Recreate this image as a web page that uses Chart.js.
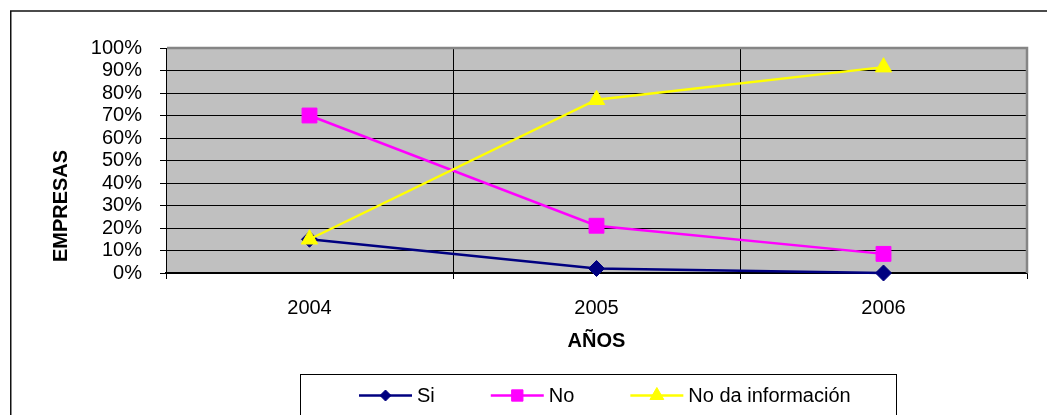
<!DOCTYPE html>
<html>
<head>
<meta charset="utf-8">
<script src="https://cdn.jsdelivr.net/npm/chart.js@4.4.1/dist/chart.umd.min.js"></script>
<style>
  html, body { margin: 0; padding: 0; background: #ffffff; }
  #wrap { width: 1047px; height: 415px; position: relative; overflow: hidden; }
  canvas { display: block; }
</style>
</head>
<body>
<div id="wrap"><canvas id="c" width="1047" height="415"></canvas></div>
<script>
// ---- data ----
const categories = ['2004', '2005', '2006'];
const seriesNames = ['Si', 'No', 'No da información'];
const seriesSi = [15, 2, 0];
const seriesNo = [70, 21, 8.5];
const seriesNoDa = [15, 77, 91.5];
const yTickLabels = ['0%', '10%', '20%', '30%', '40%', '50%', '60%', '70%', '80%', '90%', '100%'];
const xTitle = 'AÑOS';
const yTitle = 'EMPRESAS';

const FONT = '"Liberation Sans", Arial, Helvetica, sans-serif';
const legendRadius = [5.5, 8, 8];

const plotBackground = {
  id: 'plotBackground',
  beforeDraw(chart) {
    const { ctx, chartArea: a } = chart;
    ctx.save();
    ctx.fillStyle = '#ffffff';
    ctx.fillRect(0, 0, chart.width, chart.height);
    ctx.fillStyle = '#C0C0C0';
    ctx.fillRect(a.left, a.top, a.right - a.left, a.bottom - a.top);
    ctx.restore();
  }
};

const plotBorder = {
  id: 'plotBorder',
  beforeDatasetsDraw(chart) {
    const { ctx, chartArea: a } = chart;
    ctx.save();
    ctx.strokeStyle = '#858585';
    ctx.lineWidth = 2.5;
    ctx.beginPath();
    ctx.moveTo(a.left + 1, a.top);
    ctx.lineTo(a.right, a.top);
    ctx.lineTo(a.right, a.bottom);
    ctx.stroke();
    ctx.restore();
  }
};

const extras = {
  id: 'extras',
  afterDraw(chart) {
    const { ctx } = chart;
    ctx.save();
    // outer frame (left & top)
    ctx.strokeStyle = '#111';
    ctx.lineWidth = 1.5;
    ctx.beginPath();
    ctx.moveTo(10.75, chart.height);
    ctx.lineTo(10.75, 11);
    ctx.lineTo(chart.width, 11);
    ctx.stroke();

    // y axis title
    ctx.save();
    ctx.translate(61, 206);
    ctx.rotate(-Math.PI / 2);
    ctx.font = 'bold 20px ' + FONT;
    ctx.fillStyle = '#000';
    ctx.textAlign = 'center';
    ctx.textBaseline = 'middle';
    ctx.fillText(yTitle, 0, 0);
    ctx.restore();

    // legend box
    ctx.strokeStyle = '#000';
    ctx.lineWidth = 1;
    ctx.strokeRect(300.5, 374.5, 596, 60);
    ctx.font = '20px ' + FONT;
    ctx.textBaseline = 'middle';
    ctx.textAlign = 'left';
    const y = 395.5;
    let x = 359;
    const lineLen = 53, gap = 5, spacing = 56;
    chart.data.datasets.forEach((ds, i) => {
      ctx.strokeStyle = ds.borderColor;
      ctx.lineWidth = 2.5;
      ctx.beginPath();
      ctx.moveTo(x, y);
      ctx.lineTo(x + lineLen, y);
      ctx.stroke();
      ctx.fillStyle = ds.backgroundColor;
      ctx.strokeStyle = ds.borderColor;
      ctx.lineWidth = 1;
      Chart.helpers.drawPoint(ctx, { pointStyle: ds.pointStyle, radius: legendRadius[i], rotation: 0, borderWidth: 1 }, x + lineLen / 2, y);
      ctx.fillStyle = '#000';
      ctx.fillText(ds.label, x + lineLen + gap, y + 1);
      x += lineLen + gap + ctx.measureText(ds.label).width + spacing;
    });
    ctx.restore();
  }
};

new Chart(document.getElementById('c'), {
  type: 'line',
  data: {
    labels: categories,
    datasets: [
      {
        label: seriesNames[0], data: seriesSi,
        borderColor: '#000080', backgroundColor: '#000080',
        borderWidth: 2.5, pointStyle: 'rectRot', pointRadius: 8,
        pointBorderWidth: 1, pointHoverRadius: 8, order: 3, clip: false
      },
      {
        label: seriesNames[1], data: seriesNo,
        borderColor: '#FF00FF', backgroundColor: '#FF00FF',
        borderWidth: 2.5, pointStyle: 'rect', pointRadius: 10.5,
        pointBorderWidth: 1, pointHoverRadius: 10.5, order: 2, clip: false
      },
      {
        label: seriesNames[2], data: seriesNoDa,
        borderColor: '#FFFF00', backgroundColor: '#FFFF00',
        borderWidth: 2.5, pointStyle: 'triangle', pointRadius: 9.5,
        pointBorderWidth: 1, pointHoverRadius: 9.5, order: 1, clip: false
      }
    ]
  },
  options: {
    responsive: false,
    maintainAspectRatio: false,
    devicePixelRatio: 1,
    animation: false,
    layout: { padding: { left: 10, top: 48, right: 20, bottom: 62 } },
    plugins: {
      legend: { display: false },
      tooltip: { enabled: false },
      title: { display: false }
    },
    scales: {
      x: {
        type: 'category',
        offset: true,
        grid: { offset: true, color: '#000', lineWidth: 1, drawTicks: true, tickLength: 6, tickColor: '#000', tickWidth: 1 },
        border: { color: '#000', width: 1.5 },
        ticks: { padding: 17, color: '#000', font: { family: FONT, size: 20 }, maxRotation: 0, autoSkip: false },
        title: { display: true, text: xTitle, color: '#000', font: { family: FONT, size: 20, weight: 'bold' }, padding: { top: 0, bottom: 0 } },
        afterFit(s) { s.height = 80; }
      },
      y: {
        min: 0, max: 100,
        grid: { color: '#000', lineWidth: 1, drawTicks: true, tickLength: 6, tickColor: '#000' },
        border: { color: '#000', width: 1 },
        ticks: {
          stepSize: 10, padding: 18, color: '#000', autoSkip: false,
          font: { family: FONT, size: 20, lineHeight: 1 },
          callback: (v, i) => yTickLabels[i]
        },
        afterFit(s) { s.width = 156; }
      }
    }
  },
  plugins: [plotBackground, plotBorder, extras]
});
</script>
</body>
</html>
